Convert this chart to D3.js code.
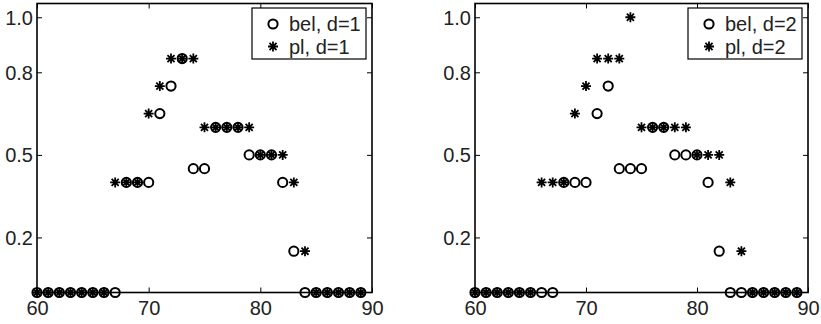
<!DOCTYPE html>
<html>
<head>
<meta charset="utf-8">
<script src="https://cdn.jsdelivr.net/npm/d3@7"></script>
<style>
  body{margin:0;background:#fff}
  svg{display:block}
  text{font-family:"Liberation Sans",Arial,Helvetica,sans-serif}
</style>
</head>
<body>
<div id="chart"></div>
<script>
var xs = [60,61,62,63,64,65,66,67,68,69,70,71,72,73,74,75,76,77,78,79,80,81,82,83,84,85,86,87,88,89]
var bel1 = [0,0,0,0,0,0,0,0,0.4,0.4,0.4,0.65,0.75,0.85,0.45,0.45,0.6,0.6,0.6,0.5,0.5,0.5,0.4,0.15,0,0,0,0,0,0]
var pl1  = [0,0,0,0,0,0,0,0.4,0.4,0.4,0.65,0.75,0.85,0.85,0.85,0.6,0.6,0.6,0.6,0.6,0.5,0.5,0.5,0.4,0.15,0,0,0,0,0]
var bel2 = [0,0,0,0,0,0,0,0,0.4,0.4,0.4,0.65,0.75,0.45,0.45,0.45,0.6,0.6,0.5,0.5,0.5,0.4,0.15,0,0,0,0,0,0,0]
var pl2  = [0,0,0,0,0,0,0.4,0.4,0.4,0.65,0.75,0.85,0.85,0.85,1.0,0.6,0.6,0.6,0.6,0.6,0.5,0.5,0.5,0.4,0.15,0,0,0,0,0]
var xTicks = [60,70,80,90]
var yTicks = [0.2,0.5,0.8,1.0]
var legend1 = ["bel, d=1","pl, d=1"]
var legend2 = ["bel, d=2","pl, d=2"]

var width = 821
var height = 324
var svg = d3.select("#chart").append("svg")
    .attr("width", width)
    .attr("height", height)

var panels = [
  {left:37, right:372, bel:bel1, pl:pl1, legend:legend1},
  {left:475, right:808, bel:bel2, pl:pl2, legend:legend2}
]
var plotTop = 3.5, plotBottom = 292.5

panels.forEach(function(p){
  var x = d3.scaleLinear().domain([60,90]).range([p.left,p.right])
  var y = d3.scaleLinear().domain([0,1.05]).range([plotBottom,plotTop])
  var g = svg.append("g")

  // axes, ticks pointing inward
  var ax = g.append("g").attr("transform","translate(0,"+plotBottom+")")
    .call(d3.axisBottom(x).tickValues(xTicks).tickSize(-5).tickSizeOuter(0).tickPadding(7))
  var ay = g.append("g").attr("transform","translate("+p.left+",0)")
    .call(d3.axisLeft(y).tickValues(yTicks).tickFormat(d3.format(".1f")).tickSize(-5).tickSizeOuter(0).tickPadding(4))
  g.append("g").attr("transform","translate(0,"+plotTop+")")
    .call(d3.axisTop(x).tickValues(xTicks).tickSize(-5).tickSizeOuter(0).tickFormat(""))
  g.append("g").attr("transform","translate("+p.right+",0)")
    .call(d3.axisRight(y).tickValues(yTicks).tickSize(-5).tickSizeOuter(0).tickFormat(""))

  g.selectAll(".domain").remove()
  g.selectAll(".tick line").attr("stroke","#000").attr("stroke-width",1)
  g.selectAll(".tick text").attr("fill","#222").style("font-size","20px")
  ax.selectAll(".tick text").attr("dy","0.75em")
  ay.selectAll(".tick text").attr("dy","0.35em")

  g.append("rect")
    .attr("x",p.left).attr("y",plotTop)
    .attr("width",p.right-p.left).attr("height",plotBottom-plotTop)
    .attr("fill","none").attr("stroke","#000").attr("stroke-width",1.6)

  // bel: circles
  g.append("g").selectAll("circle")
    .data(p.bel).enter().append("circle")
    .attr("cx",function(d,i){return x(xs[i])})
    .attr("cy",function(d){return y(d)})
    .attr("r",4.6)
    .attr("fill","none").attr("stroke","#000").attr("stroke-width",2)

  // pl: asterisks
  g.append("g").selectAll("path")
    .data(p.pl).enter().append("path")
    .attr("transform",function(d,i){return "translate("+x(xs[i])+","+y(d)+")"})
    .attr("d",star(5))
    .attr("fill","none").attr("stroke","#000").attr("stroke-width",1.8)

  // legend
  var lx = p.right-120, ly = 8
  var lg = g.append("g").attr("transform","translate("+lx+","+ly+")")
  lg.append("rect").attr("width",114).attr("height",51)
    .attr("fill","#fff").attr("stroke","#000").attr("stroke-width",1.2)
  lg.append("circle").attr("cx",21).attr("cy",16).attr("r",4.6)
    .attr("fill","none").attr("stroke","#000").attr("stroke-width",2)
  lg.append("path").attr("transform","translate(21,38.5)").attr("d",star(5))
    .attr("fill","none").attr("stroke","#000").attr("stroke-width",1.8)
  lg.selectAll("text").data(p.legend).enter().append("text")
    .attr("x",37).attr("y",function(d,i){return 16+i*22.5})
    .attr("dy","0.35em")
    .attr("fill","#222")
    .style("font-size","20px")
    .text(function(d){return d})
})

function star(r){
  var a = r*0.7071
  return "M"+(-r)+",0L"+r+",0M0,"+(-r)+"L0,"+r+
    "M"+(-a)+","+(-a)+"L"+a+","+a+"M"+(-a)+","+a+"L"+a+","+(-a)
}
</script>
</body>
</html>
